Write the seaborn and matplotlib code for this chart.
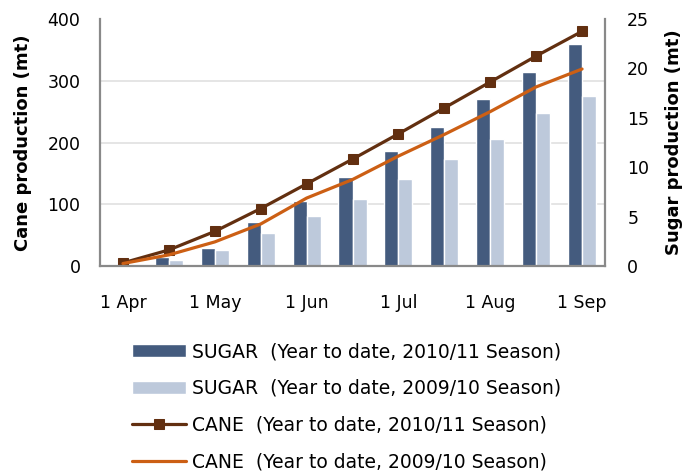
import matplotlib
matplotlib.use("Agg")
import matplotlib.pyplot as plt
import seaborn as sns
import pandas as pd
import numpy as np
from matplotlib.ticker import MultipleLocator

# ---- data ----
dates = ["1 Apr", "16 Apr", "1 May", "16 May", "1 Jun", "16 Jun",
         "1 Jul", "16 Jul", "1 Aug", "16 Aug", "1 Sep"]
tick_dates = ["1 Apr", "1 May", "1 Jun", "1 Jul", "1 Aug", "1 Sep"]
sugar_1011 = [0.25, 0.9, 1.85, 4.5, 6.6, 9.0, 11.6, 14.05, 16.9, 19.6, 22.5]
sugar_0910 = [0.1, 0.6, 1.6, 3.3, 5.05, 6.8, 8.8, 10.8, 12.85, 15.5, 17.2]
cane_1011 = [5, 26, 56, 93, 133, 173, 214, 256, 298, 340, 380]
cane_0910 = [4, 18, 39, 68, 110, 140, 178, 213, 250, 290, 319]
seasons = ["2010/11", "2009/10"]
legend_labels = ["SUGAR  (Year to date, 2010/11 Season)",
                 "SUGAR  (Year to date, 2009/10 Season)",
                 "CANE  (Year to date, 2010/11 Season)",
                 "CANE  (Year to date, 2009/10 Season)"]
cane_max, sugar_max = 400, 25

# ---- style ----
sns.set_theme(style="white")
plt.rcParams["font.family"] = ["DejaVu Sans"]
plt.rcParams["text.color"] = "black"
plt.rcParams["axes.labelcolor"] = "black"
FS_TICK = 12.5
FS = 13
FS_LEG = 13.5

c_dark, c_light = "#445B7E", "#BDC9DB"
c_brown, c_orange = "#622F10", "#CC5F14"
spine_c = "#898989"

fig = plt.figure(figsize=(6.85, 4.76), dpi=100)
axL = fig.add_axes([100/685, 1-266/476, 505/685, 247/476])
axR = axL.twinx()

# bars (sugar) on right axis, drawn below
df = pd.DataFrame({
    "date": dates * 2,
    "sugar": sugar_1011 + sugar_0910,
    "season": [seasons[0]] * len(dates) + [seasons[1]] * len(dates),
})
sns.barplot(data=df, x="date", y="sugar", hue="season", hue_order=seasons,
            palette=[c_dark, c_light], saturation=1, width=0.61,
            ax=axR, legend=False, zorder=2)
axR.set_zorder(1)
axL.set_zorder(2)
axL.patch.set_visible(False)

# lines (cane) on left axis
sns.lineplot(x=np.arange(len(dates)), y=cane_1011, color=c_brown, lw=2.3,
             marker="s", markersize=7, markeredgecolor=c_brown, ax=axL)
sns.lineplot(x=np.arange(len(dates)), y=cane_0910, color=c_orange, lw=2.3,
             ax=axL)

axL.set_xlim(-0.5, len(dates) - 0.5)
axL.set_ylim(0, cane_max)
axR.set_ylim(0, sugar_max)

# ticks
axL.yaxis.set_major_locator(MultipleLocator(100))
axR.yaxis.set_major_locator(MultipleLocator(5))
pos = [dates.index(d) for d in tick_dates]
axL.set_xticks(pos)
axL.set_xticklabels(tick_dates)
axL.tick_params(axis="x", length=0, pad=20, labelsize=FS_TICK, colors="black",
                labelbottom=True)
axL.tick_params(axis="y", length=0, pad=14, labelsize=FS_TICK, colors="black")
axR.tick_params(axis="y", length=0, pad=16, labelsize=FS_TICK, colors="black")

# gridlines under the bars, aligned with cane ticks
axR.yaxis.set_minor_locator(MultipleLocator(100 * sugar_max / cane_max))
axR.tick_params(axis="y", which="minor", length=0)
axR.grid(True, which="minor", axis="y", color="#E3E3E3", lw=1.3)
axR.grid(False, which="major")
axR.set_axisbelow(True)
axL.grid(False)

axL.set_xlabel("")
axR.set_xlabel("")
axR.set_ylabel("")
axL.set_ylabel("Cane production (mt)", fontsize=FS, fontweight="bold",
               color="black")
axR.set_ylabel("Sugar production (mt)", fontsize=FS, fontweight="bold",
               rotation=90, color="black")
axL.yaxis.set_label_coords(-0.135, 0.5)
axR.yaxis.set_label_coords(1.118, 0.5)

# spines
for ax in (axL, axR):
    for s in ax.spines.values():
        s.set_visible(False)
axL.spines["left"].set_visible(True)
axL.spines["bottom"].set_visible(True)
axR.spines["right"].set_visible(True)
for ax, s in ((axL, "left"), (axL, "bottom"), (axR, "right")):
    ax.spines[s].set_color(spine_c)
    ax.spines[s].set_linewidth(1.6)

# legend
bar_handles = [axR.containers[0], axR.containers[1]]
line_handles = axL.get_lines()[:2]
leg = fig.legend(bar_handles + list(line_handles), legend_labels,
                 loc="upper left", bbox_to_anchor=(132/685, 1 - 342/476),
                 frameon=False, fontsize=FS_LEG, borderpad=0, borderaxespad=0,
                 handlelength=2.9, handleheight=0.7, handletextpad=0.3,
                 labelspacing=0.95, labelcolor="black")

fig.savefig("out.png", dpi=100)
